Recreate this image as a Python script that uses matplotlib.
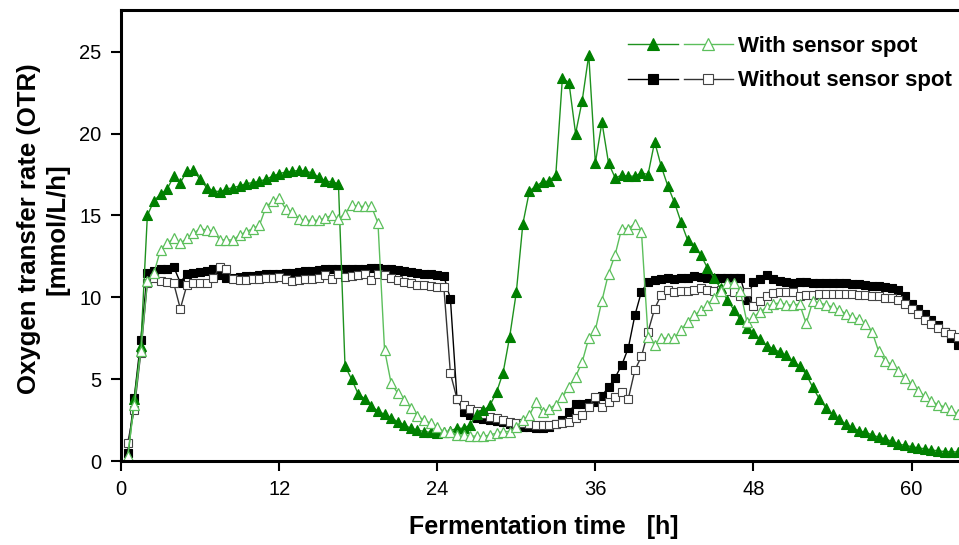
import numpy as np
import matplotlib
matplotlib.use('Agg')
import matplotlib.pyplot as plt
from matplotlib.legend_handler import HandlerTuple

plt.rcParams['font.family'] = ['Liberation Sans', 'DejaVu Sans']

# -------------------------------
# Data (OTR in mmol/L/h, sampled every 0.5 h)
# -------------------------------
time_h = np.arange(0.5, 64.0, 0.5)

with_spot_a = [0.0, 3.8, 7.0, 15.0, 15.9, 16.3, 16.6, 17.4, 17.0, 17.7,
               17.75, 17.2, 16.7, 16.5, 16.45, 16.6, 16.7, 16.8, 16.95, 17.0,
               17.1, 17.2, 17.4, 17.55, 17.65, 17.7, 17.75, 17.7, 17.6, 17.35,
               17.1, 17.05, 16.95, 5.8, 5.0, 4.1, 3.8, 3.35, 3.05, 2.85,
               2.65, 2.4, 2.2, 2.0, 1.9, 1.8, 1.75, 1.7, 1.75, 1.85,
               2.0, 2.0, 2.2, 2.9, 3.1, 3.4, 4.2, 5.4, 7.6, 10.3,
               14.5, 16.5, 16.8, 17.05, 17.1, 17.5, 23.4, 23.1, 20.0, 22.0,
               24.8, 18.2, 20.7, 18.2, 17.3, 17.45, 17.4, 17.4, 17.6, 17.5,
               19.5, 18.0, 16.8, 15.8, 14.6, 13.5, 13.1, 12.6, 11.8, 11.2,
               10.55, 9.85, 9.25, 8.65, 8.15, 7.8, 7.45, 7.05, 6.85, 6.65,
               6.45, 6.1, 5.8, 5.3, 4.5, 3.8, 3.25, 2.85, 2.55, 2.25,
               2.05, 1.85, 1.75, 1.6, 1.45, 1.35, 1.2, 1.05, 0.95, 0.88,
               0.8, 0.75, 0.68, 0.62, 0.58, 0.57, 0.55]

with_spot_b = [0.3, 3.4, 6.7, 11.0, 11.5, 12.9, 13.3, 13.6, 13.3, 13.6,
               13.9, 14.2, 14.1, 14.05, 13.5, 13.5, 13.5, 13.8, 14.0, 14.2,
               14.4, 15.5, 15.9, 16.05, 15.4, 15.2, 14.8, 14.7, 14.7, 14.7,
               14.85, 15.0, 14.8, 15.1, 15.65, 15.55, 15.55, 15.55, 14.55, 6.8,
               4.75, 4.15, 3.7, 3.25, 2.75, 2.5, 2.3, 2.1, 1.8, 1.8,
               1.6, 1.6, 1.55, 1.5, 1.5, 1.6, 1.7, 1.8, 1.8, 2.1,
               2.5, 2.8, 3.6, 3.0, 3.2, 3.45, 3.9, 4.55, 5.15, 6.05,
               7.5, 8.0, 9.8, 11.45, 12.6, 14.2, 14.2, 14.5, 14.0, 7.6,
               7.1, 7.5, 7.5, 7.5, 8.0, 8.5, 8.9, 9.2, 9.55, 9.95,
               10.4, 10.85, 10.9, 10.4, 8.5, 8.8, 9.1, 9.4, 9.6, 9.65,
               9.55, 9.5, 9.6, 8.4, 9.75, 9.65, 9.55, 9.4, 9.25, 9.0,
               8.8, 8.65, 8.35, 7.9, 6.7, 6.1, 5.9, 5.5, 5.1, 4.7,
               4.3, 3.95, 3.65, 3.45, 3.3, 3.1, 2.9]

without_spot_a = [0.5, 3.85, 7.4, 11.5, 11.6, 11.75, 11.75, 11.85, 10.9, 11.45,
                  11.5, 11.55, 11.6, 11.75, 11.35, 11.2, 11.2, 11.25, 11.3, 11.3,
                  11.35, 11.4, 11.4, 11.45, 11.5, 11.5, 11.55, 11.6, 11.6, 11.65,
                  11.7, 11.7, 11.7, 11.75, 11.75, 11.75, 11.75, 11.8, 11.8, 11.75,
                  11.7, 11.65, 11.6, 11.55, 11.5, 11.45, 11.4, 11.35, 11.3, 9.9,
                  3.8, 3.0, 2.8, 2.65, 2.55, 2.5, 2.45, 2.4, 2.25, 2.15,
                  2.1, 2.05, 2.0, 2.0, 2.1, 2.25, 2.5, 3.0, 3.5, 3.5,
                  3.55, 3.6, 4.0, 4.5, 5.1, 5.85, 6.9, 8.9, 10.35, 10.95,
                  11.05, 11.1, 11.15, 11.1, 11.15, 11.2, 11.3, 11.25, 11.2, 11.15,
                  11.2, 11.15, 11.2, 11.2, 9.85, 10.95, 11.1, 11.35, 11.1, 11.0,
                  10.95, 10.9, 10.95, 10.95, 10.9, 10.9, 10.9, 10.85, 10.85, 10.85,
                  10.8, 10.8, 10.75, 10.7, 10.7, 10.65, 10.55, 10.45, 10.1, 9.6,
                  9.3, 9.0, 8.6, 8.3, 7.9, 7.5, 7.1]

without_spot_b = [1.1, 3.1, 6.6, 10.9, 11.2, 11.0, 10.95, 10.85, 9.3, 10.75,
                  10.85, 10.85, 10.9, 11.2, 11.85, 11.75, 11.1, 11.05, 11.05, 11.1,
                  11.1, 11.15, 11.2, 11.25, 11.1, 11.0, 11.05, 11.1, 11.1, 11.2,
                  11.35, 11.1, 11.45, 11.25, 11.3, 11.35, 11.45, 11.05, 11.45, 11.35,
                  11.15, 11.05, 10.95, 10.9, 10.75, 10.75, 10.7, 10.65, 10.65, 5.35,
                  3.8, 3.4, 3.2, 3.05, 2.9, 2.7, 2.6, 2.5, 2.4, 2.35,
                  2.3, 2.25, 2.2, 2.2, 2.2, 2.25, 2.3, 2.4, 2.6, 2.8,
                  3.3, 3.9, 3.3, 3.6, 3.9, 4.2, 3.8, 5.55, 6.4, 7.9,
                  9.3, 10.15, 10.45, 10.35, 10.4, 10.4, 10.45, 10.55, 10.45, 10.4,
                  10.45, 10.4, 10.35, 10.05, 10.35, 9.45, 9.8, 10.05, 10.25, 10.35,
                  10.35, 10.3, 10.05, 10.15, 10.15, 10.2, 10.2, 10.2, 10.2, 10.2,
                  10.2, 10.15, 10.15, 10.1, 10.05, 9.95, 9.95, 9.85, 9.6, 9.3,
                  8.95, 8.6, 8.35, 8.15, 7.9, 7.75, 7.6]

x_ticks = [0, 12, 24, 36, 48, 60]
y_ticks = [0, 5, 10, 15, 20, 25]

# -------------------------------
# Plot
# -------------------------------
fig = plt.figure(figsize=(9.59, 5.45), dpi=100)
ax = fig.add_axes([0.1262, 0.1541, 0.8738, 0.8276])

dark_green = '#008000'
light_green = '#5cbf5c'

l_c, = ax.plot(time_h, without_spot_a, color='black', lw=1.0, marker='s', ms=5.5,
               mfc='black', mec='black', mew=0.8)
l_d, = ax.plot(time_h, without_spot_b, color='#333333', lw=1.0, marker='s', ms=5.5,
               mfc='white', mec='#444444', mew=0.8)
l_a, = ax.plot(time_h, with_spot_a, color='#1e921e', lw=1.0, marker='^', ms=7,
               mfc=dark_green, mec=dark_green, mew=0.8)
l_b, = ax.plot(time_h, with_spot_b, color=light_green, lw=1.0, marker='^', ms=7.5,
               mfc='white', mec=light_green, mew=0.9)

ax.set_xlim(0, 63.6)
ax.set_ylim(0, 27.55)
ax.set_xticks(x_ticks)
ax.set_yticks(y_ticks)
ax.tick_params(direction='out', length=7, width=1.5, labelsize=14.5, pad=7)
for side in ['left', 'bottom', 'top']:
    ax.spines[side].set_linewidth(2.2)
ax.spines['right'].set_visible(False)

ax.set_xlabel('Fermentation time   [h]', fontsize=18, fontweight='bold')
ax.xaxis.set_label_coords(0.505, -0.12)
ax.set_ylabel('Oxygen transfer rate (OTR)\n[mmol/L/h]', fontsize=18.5,
              fontweight='bold')
ax.yaxis.set_label_coords(-0.062, 0.515)

ax.legend([(l_a, l_b), (l_c, l_d)], ['With sensor spot', 'Without sensor spot'],
          handler_map={tuple: HandlerTuple(ndivide=None, pad=0.27)},
          loc='upper left', bbox_to_anchor=(0.605, 0.942), frameon=False,
          handlelength=4.73, handletextpad=0.23, labelspacing=0.6,
          markerscale=1.2,
          prop={'weight': 'bold', 'size': 16}, borderaxespad=0, borderpad=0)

fig.savefig('out.png', dpi=100)
